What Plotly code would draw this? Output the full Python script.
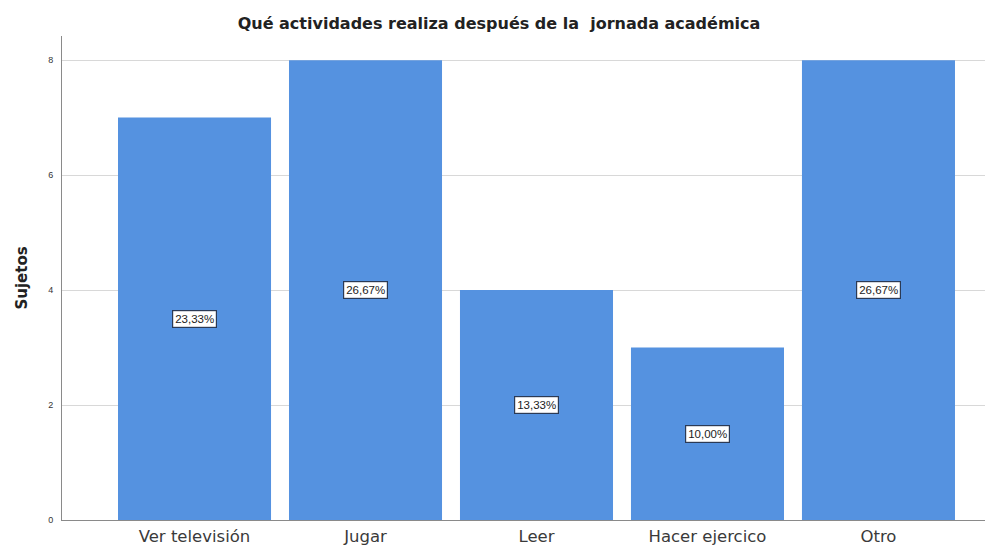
import plotly.graph_objects as go

# Frequencies of after-school activities
categories = ["Ver televisión", "Jugar", "Leer", "Hacer ejercico", "Otro"]
counts = [7, 8, 4, 3, 8]
y_ticks = [0, 2, 4, 6, 8]

total = sum(counts)
pct_labels = [f"{c / total * 100:.2f}%".replace(".", ",") for c in counts]

bar_color = "#5592E0"

fig = go.Figure(
    go.Bar(
        x=list(range(len(categories))),
        y=counts,
        marker=dict(color=bar_color, line=dict(width=0)),
        width=0.895,
        hoverinfo="skip",
    )
)

# Percentage boxes sit halfway up each bar
for i, (c, lab) in enumerate(zip(counts, pct_labels)):
    fig.add_annotation(
        x=i, y=c / 2, text=lab, showarrow=False,
        font=dict(family="Liberation Sans, Arial", size=11.5, color="#222"),
        bgcolor="white", bordercolor="#2b3a55", borderwidth=1.2, borderpad=2,
    )

fig.update_layout(
    width=998, height=550,
    margin=dict(l=62, r=13, t=36, b=30),
    paper_bgcolor="white", plot_bgcolor="white",
    showlegend=False,
    title=dict(
        text="<b>Qué actividades realiza después de la  jornada académica</b>",
        x=0.5, xanchor="center", y=1 - 23 / 550, yanchor="middle",
        font=dict(family="DejaVu Sans", size=16, color="#222"),
    ),
    xaxis=dict(
        range=[-0.775, 4.623],
        tickmode="array", tickvals=list(range(len(categories))), ticktext=categories,
        tickfont=dict(family="DejaVu Sans", size=16.5, color="#3a3a3a"),
        showgrid=False, zeroline=False,
        showline=True, linecolor="#8a8a8a", linewidth=1,
        ticks="", ticklabelstandoff=1, automargin=False,
    ),
    yaxis=dict(
        range=[0, 8.42],
        tickmode="array", tickvals=y_ticks, ticktext=[str(t) for t in y_ticks],
        tickfont=dict(family="Liberation Sans, Arial", size=9, color="#333"),
        showgrid=True, gridcolor="#d8d8d8", gridwidth=1,
        zeroline=False,
        showline=True, linecolor="#8a8a8a", linewidth=1,
        ticks="", ticklabelstandoff=6, automargin=False,
        title=dict(text="<b>Sujetos</b>", standoff=16,
                   font=dict(family="DejaVu Sans", size=15, color="#222")),
    ),
)

fig.write_html("out.html")
